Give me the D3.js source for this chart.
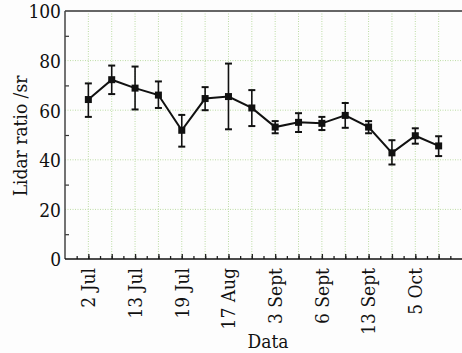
<!DOCTYPE html>
<html>
<head>
<meta charset="utf-8">
<script src="https://cdn.jsdelivr.net/npm/d3@7"></script>
<style>
  body { margin: 0; background: #fdfdfd; }
  svg { display: block; }
</style>
</head>
<body>
<div class="container"></div>
<script>
const dates = ["2 Jul", "", "13 Jul", "", "19 Jul", "", "17 Aug", "", "3 Sept", "", "6 Sept", "", "13 Sept", "", "5 Oct", ""];
const ratio = [64.3, 72.3, 68.9, 66.1, 51.9, 64.7, 65.5, 60.9, 53.2, 55.1, 54.7, 57.9, 53.2, 42.8, 49.7, 45.6];
const upper = [70.8, 78.0, 77.6, 71.6, 58.1, 69.3, 78.8, 68.1, 55.6, 58.8, 57.3, 62.9, 55.6, 47.9, 52.7, 49.5];
const lower = [57.3, 66.5, 60.3, 60.9, 45.3, 60.0, 52.3, 53.6, 50.7, 51.2, 52.0, 52.9, 50.7, 38.1, 46.5, 41.5];
const yTicks = [0, 20, 40, 60, 80, 100];

const FONT = "'DejaVu Serif', serif";

const margin = { top: 11, right: 0, bottom: 94, left: 65 },
    width = 462 - margin.left - margin.right,
    height = 353 - margin.top - margin.bottom;

const svg = d3.select(".container")
    .append("svg")
    .attr("width", 462)
    .attr("height", 353)
    .append("g")
    .attr("transform", `translate(${margin.left}, ${margin.top})`);

const data = ratio.map((v, i) => ({ i: i + 1, v: v, hi: upper[i], lo: lower[i], label: dates[i] }));

const x = d3.scaleLinear().domain([0, 17]).range([0, width]);
const y = d3.scaleLinear().domain([0, 100]).range([height, 0]);

function serif(sel, size) {
  sel.style("font-family", FONT)
     .style("font-stretch", "condensed")
     .style("font-size", size + "px")
     .attr("fill", "#111");
}

// grid
svg.append("g")
    .selectAll("line")
    .data(data)
    .enter()
    .append("line")
    .attr("x1", d => x(d.i)).attr("x2", d => x(d.i))
    .attr("y1", 0).attr("y2", height)
    .attr("stroke", "#bcdca4")
    .attr("stroke-dasharray", "1,1.5");

svg.append("g")
    .selectAll("line")
    .data(yTicks.slice(1, -1))
    .enter()
    .append("line")
    .attr("x1", 0).attr("x2", width)
    .attr("y1", d => y(d)).attr("y2", d => y(d))
    .attr("stroke", "#bcdca4")
    .attr("stroke-dasharray", "1,1.5");

// minor ticks
const xMinor = d3.range(0.5, 17, 0.5);
svg.append("g")
    .attr("transform", `translate(0, ${height})`)
    .call(d3.axisBottom(x).tickValues(xMinor).tickSize(-3).tickFormat(""))
    .call(g => g.select(".domain").remove())
    .call(g => g.selectAll("line").attr("stroke", "#222").attr("stroke-width", 1.3));

svg.append("g")
    .attr("transform", `translate(0, ${height})`)
    .call(d3.axisBottom(x).tickValues(data.map(d => d.i)).tickSize(-5).tickFormat(""))
    .call(g => g.select(".domain").remove())
    .call(g => g.selectAll("line").attr("stroke", "#222").attr("stroke-width", 1.3));

svg.append("g")
    .call(d3.axisLeft(y).tickValues(d3.range(10, 100, 20)).tickSize(-4).tickFormat(""))
    .call(g => g.select(".domain").remove())
    .call(g => g.selectAll("line").attr("stroke", "#333").attr("stroke-width", 1.2));

// y tick labels
svg.append("g")
    .call(d3.axisLeft(y).tickValues(yTicks).tickSize(0).tickPadding(4))
    .call(g => g.select(".domain").remove())
    .call(g => g.selectAll("text").call(serif, 19).attr("dy", "0.36em"));

// x tick labels
svg.append("g")
    .selectAll("text")
    .data(data.filter(d => d.label))
    .enter()
    .append("text")
    .attr("transform", d => `translate(${x(d.i)}, ${height + 9}) rotate(-90)`)
    .attr("text-anchor", "end")
    .attr("dy", "0.36em")
    .call(serif, 19)
    .text(d => d.label);

// frame
svg.append("line")
    .attr("x1", 0).attr("x2", width).attr("y1", 0).attr("y2", 0)
    .attr("stroke", "#666").attr("stroke-width", 2);
svg.append("line")
    .attr("x1", 0).attr("x2", 0).attr("y1", 0).attr("y2", height)
    .attr("stroke", "#444").attr("stroke-width", 1.5);
svg.append("line")
    .attr("x1", 0).attr("x2", width).attr("y1", height).attr("y2", height)
    .attr("stroke", "#111").attr("stroke-width", 1.6);

// error bars
const bars = svg.append("g").attr("stroke", "#111").attr("stroke-width", 1.6);
data.forEach(d => {
  bars.append("line")
      .attr("x1", x(d.i)).attr("x2", x(d.i))
      .attr("y1", y(d.hi)).attr("y2", y(d.lo));
  [d.hi, d.lo].forEach(e => {
    bars.append("line")
        .attr("x1", x(d.i) - 3.5).attr("x2", x(d.i) + 3.5)
        .attr("y1", y(e)).attr("y2", y(e))
        .attr("stroke-width", 2);
  });
});

// line + markers
svg.append("path")
    .datum(data)
    .attr("fill", "none")
    .attr("stroke", "#111")
    .attr("stroke-width", 2)
    .attr("d", d3.line().x(d => x(d.i)).y(d => y(d.v)));

svg.selectAll(".dot")
    .data(data)
    .enter()
    .append("rect")
    .attr("class", "dot")
    .attr("x", d => x(d.i) - 3.5)
    .attr("y", d => y(d.v) - 3.5)
    .attr("width", 7)
    .attr("height", 7)
    .attr("fill", "#111");

// axis titles
svg.append("text")
    .attr("transform", `translate(${27 - margin.left}, ${136 - margin.top}) rotate(-90)`)
    .attr("text-anchor", "middle")
    .call(serif, 19)
    .text("Lidar ratio /sr");

svg.append("text")
    .attr("x", 268 - margin.left)
    .attr("y", 348 - margin.top)
    .attr("text-anchor", "middle")
    .call(serif, 19)
    .text("Data");
</script>
</body>
</html>
